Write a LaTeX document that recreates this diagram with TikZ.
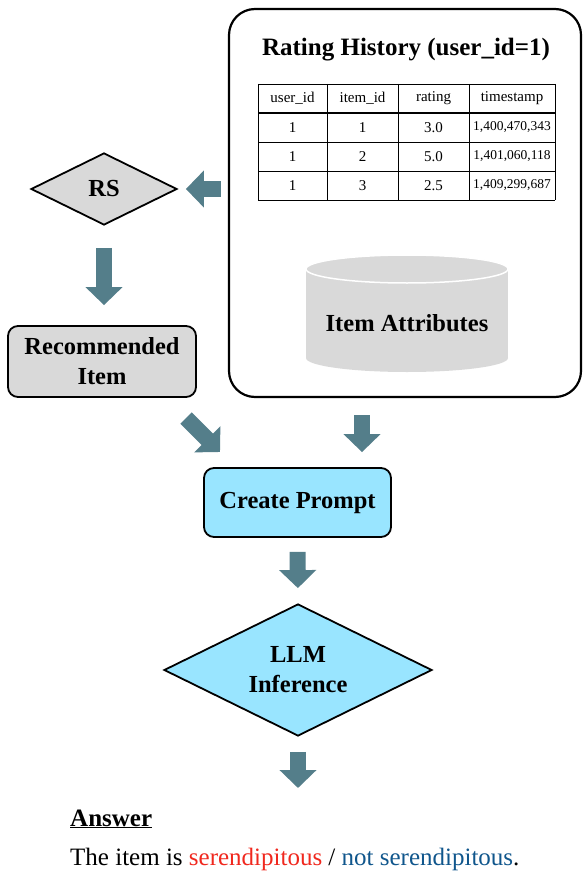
\documentclass[tikz,border=0pt]{standalone}
\usepackage{fontspec}
\setmainfont{Liberation Serif}
\usetikzlibrary{shapes.geometric,arrows.meta}
\definecolor{arrowc}{RGB}{84,126,138}
\definecolor{grayf}{RGB}{217,217,217}
\definecolor{cyanf}{RGB}{153,229,255}
\definecolor{redt}{RGB}{240,40,30}
\definecolor{bluet}{RGB}{16,86,140}
\tikzset{
  blockarrow/.style={draw=arrowc, line width=16pt, -{Triangle[length=18pt,width=36pt]}},
  lbl/.style={font=\fontsize{24.5}{30}\selectfont\bfseries, align=center},
  hdr/.style={font=\fontsize{15}{18}\selectfont, inner sep=0},
  cell/.style={font=\fontsize{15}{18}\selectfont, inner sep=0},
  tscell/.style={font=\fontsize{13.5}{16}\selectfont, inner sep=0},
  boxed/.style={draw, line width=1.8pt, rounded corners=10pt, inner sep=0, lbl},
  dia/.style={diamond, shape aspect=2, draw, line width=1.8pt, inner sep=0, lbl}
}
\begin{document}
\begin{tikzpicture}[x=1pt,y=-1pt]
\useasboundingbox (0,0) rectangle (584,872);

% history panel
\node[draw, line width=2.2pt, rounded corners=26pt, minimum width=352pt, minimum height=388pt, inner sep=0] (hist) at (405,203) {};
\node[lbl, font=\fontsize{25}{30}\selectfont\bfseries] (title) at (406,50) {Rating History (user\_id=1)};

% table
\foreach \xx in {258,327,398,469,555} \draw[line width=0.9pt] (\xx,84) -- (\xx,200);
\foreach \yy in {84,142,171,200} \draw[line width=0.9pt] (258,\yy) -- (555,\yy);
\draw[line width=2.8pt] (258,113) -- (555,113);
\node[hdr] (h1) at (292.5,98.5) {user\_id};
\node[hdr] (h2) at (362.5,98.5) {item\_id};
\node[hdr] (h3) at (433.5,98.5) {rating};
\node[hdr] (h4) at (512,98.5) {timestamp};
\node[cell] (r1a) at (292.5,127.5) {1};
\node[cell] (r1b) at (362.5,127.5) {1};
\node[cell] (r1c) at (433.5,127.5) {3.0};
\node[tscell] (r1d) at (512,127.5) {1,400,470,343};
\node[cell] (r2a) at (292.5,156.5) {1};
\node[cell] (r2b) at (362.5,156.5) {2};
\node[cell] (r2c) at (433.5,156.5) {5.0};
\node[tscell] (r2d) at (512,156.5) {1,401,060,118};
\node[cell] (r3a) at (292.5,185.5) {1};
\node[cell] (r3b) at (362.5,185.5) {3};
\node[cell] (r3c) at (433.5,185.5) {2.5};
\node[tscell] (r3d) at (512,185.5) {1,409,299,687};

% cylinder
\fill[grayf] (306,269) rectangle (508,358);
\fill[grayf] (407,358) ellipse[x radius=101pt, y radius=14pt];
\filldraw[fill=grayf, draw=white, line width=1.5pt] (407,269) ellipse[x radius=101pt, y radius=14pt];
\node[lbl] (attr) at (407,323) {Item Attributes};

% left flow
\node[dia, fill=grayf, minimum width=146pt, minimum height=72pt] (rs) at (104,189) {RS};
\node[boxed, fill=grayf, minimum width=188pt, minimum height=71pt] (rec) at (102,361.5) {Recommended\\Item};
\node[boxed, fill=cyanf, minimum width=187pt, minimum height=69pt] (cp) at (297.5,502.5) {Create Prompt};
\node[dia, fill=cyanf, minimum width=268pt, minimum height=132pt] (llm) at (298,670) {LLM\\Inference};

% answer
\node[anchor=base west, inner sep=0, font=\fontsize{25}{30}\selectfont\bfseries] (ans) at (70,826) {\underline{Answer}};
\node[anchor=base west, inner sep=0, font=\fontsize{25}{30}\selectfont] (sent) at (70,865) {The item is \textcolor{redt}{serendipitous} / \textcolor{bluet}{not serendipitous}.};

% arrows
\coordinate (d1) at (186,418);
\coordinate (d2) at (220,452);
\coordinate (outend) at (298,788);
\draw[blockarrow, shorten <=7pt, shorten >=8pt] (rs.east -| hist.west) -- (rs.east);
\draw[blockarrow, shorten <=22pt, shorten >=20pt] (rs.south) -- (rec.north -| rs.south);
\draw[blockarrow] (d1) -- (d2);
\draw[blockarrow, shorten <=17pt, shorten >=15pt] ([xshift=-43pt]hist.south) -- ([xshift=-43pt]hist.south |- cp.north);
\draw[blockarrow, shorten <=14pt, shorten >=15pt] (cp.south) -- (llm.north);
\draw[blockarrow, shorten <=15pt] (llm.south) -- (outend);
\end{tikzpicture}
\end{document}
